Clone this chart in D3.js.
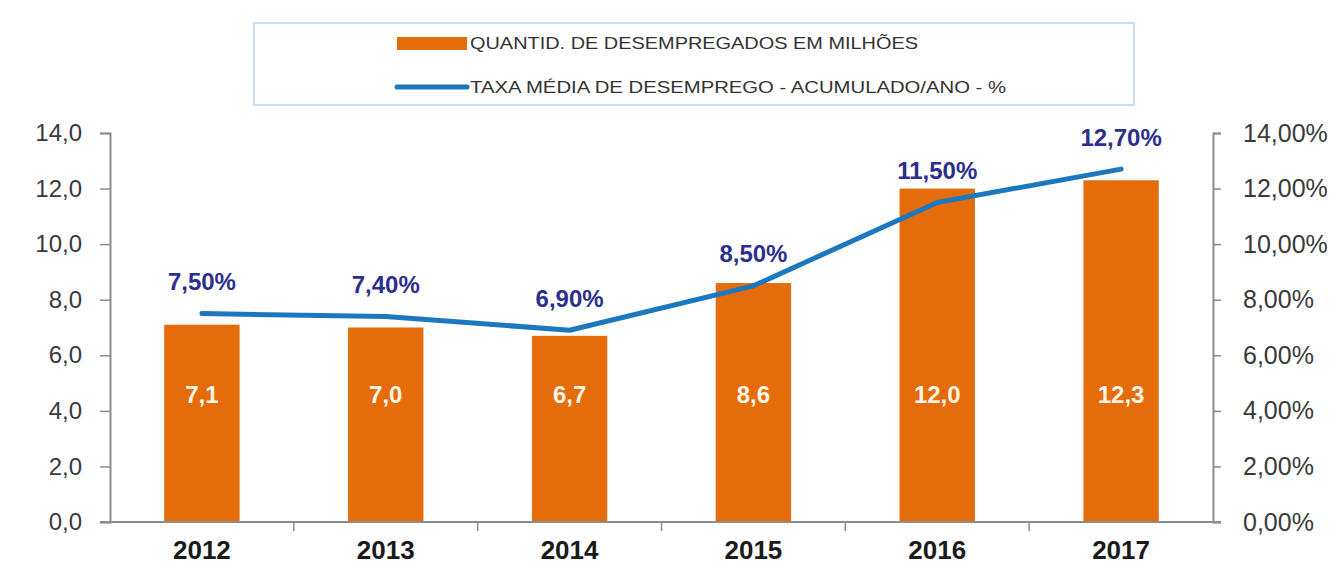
<!DOCTYPE html>
<html>
<head>
<meta charset="utf-8">
<script src="https://cdn.jsdelivr.net/npm/d3@7"></script>
<style>
  body { margin: 0; background: #fff; }
  svg text { font-family: "Liberation Sans", Arial, sans-serif; }
</style>
</head>
<body>
<div id="graph"></div>
<script>
// data
var years = ["2012", "2013", "2014", "2015", "2016", "2017"];
var desempregados = [7.1, 7.0, 6.7, 8.6, 12.0, 12.3];   // milhões
var taxa = [7.5, 7.4, 6.9, 8.5, 11.5, 12.7];            // %
var leftTicks = [0, 2, 4, 6, 8, 10, 12, 14];
var rightTicks = [0, 2, 4, 6, 8, 10, 12, 14];
var legendLabels = ["QUANTID. DE DESEMPREGADOS EM MILHÕES", "TAXA MÉDIA DE DESEMPREGO - ACUMULADO/ANO - %"];

var svgWidth = 1339, svgHeight = 570;
var margin = {top: 133, right: 126, bottom: 48, left: 110};
var width = svgWidth - margin.left - margin.right;
var height = svgHeight - margin.top - margin.bottom;

var orange = "#e46c0a", blue = "#1b78be", navy = "#2b2f8f", axisGray = "#8c8c8c";
var comma = function(v, n) { return v.toFixed(n).replace(".", ","); };

var svg = d3.select('#graph').append('svg')
  .attr("width", svgWidth)
  .attr("height", svgHeight);

var g = svg.append('g')
  .attr('transform', 'translate(' + margin.left + ',' + margin.top + ')');

var x = d3.scaleBand().domain(years).range([0, width]).paddingInner(0.59).paddingOuter(0.295);
var xc = d3.scaleBand().domain(years).range([0, width]);
var y = d3.scaleLinear().domain([0, 14]).range([height, 0]);
var y2 = d3.scaleLinear().domain([0, 14]).range([height, 0]);

// legend
var legend = svg.append("g").attr("class", "legend");
legend.append("rect")
  .attr("x", 254).attr("y", 23).attr("width", 880).attr("height", 82)
  .attr("fill", "#fff").attr("stroke", "#c9dcf0").attr("stroke-width", 2);
legend.append("rect")
  .attr("x", 397).attr("y", 37).attr("width", 70).attr("height", 13)
  .attr("fill", orange);
legend.append("line")
  .attr("x1", 397).attr("x2", 467).attr("y1", 87).attr("y2", 87)
  .attr("stroke", blue).attr("stroke-width", 5).attr("stroke-linecap", "round");
legend.append("text")
  .attr("x", 470).attr("y", 49)
  .attr("font-size", 17).attr("fill", "#333")
  .attr("textLength", 448).attr("lengthAdjust", "spacingAndGlyphs")
  .text(legendLabels[0]);
legend.append("text")
  .attr("x", 470).attr("y", 93)
  .attr("font-size", 17).attr("fill", "#333")
  .attr("textLength", 536).attr("lengthAdjust", "spacingAndGlyphs")
  .text(legendLabels[1]);

// bars
g.selectAll(".bar")
  .data(desempregados)
  .enter().append("rect")
  .attr("class", "bar")
  .attr("x", function(d, i) { return x(years[i]); })
  .attr("width", x.bandwidth())
  .attr("y", function(d) { return y(d); })
  .attr("height", function(d) { return height - y(d); })
  .attr("fill", orange);

g.selectAll(".bar-label")
  .data(desempregados)
  .enter().append("text")
  .attr("class", "bar-label")
  .attr("x", function(d, i) { return x(years[i]) + x.bandwidth() / 2; })
  .attr("y", y(4.6))
  .attr("dy", "0.35em")
  .attr("text-anchor", "middle")
  .attr("font-size", 24).attr("font-weight", "bold")
  .attr("fill", "#fff4e6")
  .text(function(d) { return comma(d, 1); });

// axes
var left = g.append("g").attr("class", "axis")
  .call(d3.axisLeft(y).tickValues(leftTicks).tickSize(10).tickPadding(18)
    .tickFormat(function(d) { return comma(d, 1); }));
var right = g.append("g").attr("class", "axis")
  .attr("transform", "translate(" + width + ",0)")
  .call(d3.axisRight(y2).tickValues(rightTicks).tickSize(8).tickPadding(22)
    .tickFormat(function(d) { return comma(d, 2) + "%"; }));
var bottom = g.append("g").attr("class", "axis")
  .attr("transform", "translate(0," + height + ")")
  .call(d3.axisBottom(xc).tickSize(0).tickPadding(19).tickSizeOuter(0));

[left, right].forEach(function(a) {
  a.select(".domain").attr("stroke", axisGray).attr("stroke-width", 2);
  a.selectAll(".tick line").attr("stroke", axisGray).attr("stroke-width", 1.5);
  a.selectAll(".tick text").attr("font-size", 24).attr("fill", "#3a3a3a")
    .attr("font-family", "Liberation Sans, Arial, sans-serif");
});
right.selectAll(".tick text").attr("text-anchor", "start").attr("x", 30)
  .attr("font-size", 25);

bottom.select(".domain").remove();
bottom.append("line")
  .attr("x1", -10).attr("x2", width + 8)
  .attr("stroke", axisGray).attr("stroke-width", 2);
bottom.selectAll(".divider")
  .data(years.slice(1))
  .enter().append("line")
  .attr("class", "divider")
  .attr("x1", function(d) { return xc(d); })
  .attr("x2", function(d) { return xc(d); })
  .attr("y1", 0).attr("y2", 9)
  .attr("stroke", axisGray).attr("stroke-width", 1.5);
bottom.selectAll(".tick text")
  .attr("font-size", 26).attr("font-weight", "bold").attr("fill", "#1a1a1a")
  .attr("font-family", "Liberation Sans, Arial, sans-serif");

// line
var line = d3.line()
  .x(function(d, i) { return xc(years[i]) + xc.bandwidth() / 2; })
  .y(function(d) { return y2(d); });

g.append("path")
  .datum(taxa)
  .attr("fill", "none")
  .attr("stroke", blue)
  .attr("stroke-width", 5)
  .attr("stroke-linejoin", "round")
  .attr("stroke-linecap", "round")
  .attr("d", line);

g.selectAll(".rate-label")
  .data(taxa)
  .enter().append("text")
  .attr("class", "rate-label")
  .attr("x", function(d, i) { return xc(years[i]) + xc.bandwidth() / 2; })
  .attr("y", function(d) { return y2(d) - 32; })
  .attr("dy", "0.35em")
  .attr("text-anchor", "middle")
  .attr("font-size", 24).attr("font-weight", "bold")
  .attr("fill", navy)
  .text(function(d) { return comma(d, 2) + "%"; });
</script>
</body>
</html>
